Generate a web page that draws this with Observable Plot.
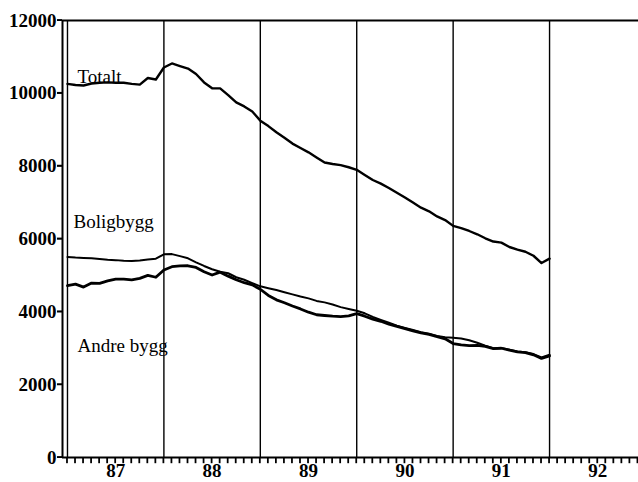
<!DOCTYPE html>
<html>
<head>
<meta charset="utf-8">
<script src="https://cdn.jsdelivr.net/npm/d3@7"></script>
<script src="https://cdn.jsdelivr.net/npm/@observablehq/plot@0.6"></script>
<style>
  html, body { margin: 0; padding: 0; background: #fff; }
  #chart svg { display: block; }
</style>
</head>
<body>
<div id="chart"></div>
<script>
// Monthly values, Jan 1987 (index 0) through Jan 1992 (index 60)
const totalt = [
  10260, 10230, 10215, 10270, 10290, 10300, 10290, 10290, 10260, 10240, 10420, 10380,
  10710, 10820, 10750, 10680, 10530, 10300, 10140, 10135, 9950, 9750, 9640, 9500,
  9250, 9100, 8930, 8780, 8620, 8500, 8380, 8240, 8100, 8060, 8030, 7970,
  7900, 7760, 7620, 7520, 7400, 7270, 7140, 7000, 6860, 6760, 6620, 6520,
  6360, 6300, 6220, 6130, 6020, 5930, 5900, 5780, 5710, 5650, 5540, 5340,
  5460
];
const boligbygg = [
  5505, 5490, 5480, 5470, 5450, 5430, 5420, 5400, 5395, 5410, 5440, 5460,
  5580, 5585, 5530, 5470, 5360, 5260, 5170, 5100, 5060, 4950, 4880, 4790,
  4700, 4650, 4600, 4540, 4480, 4420, 4370, 4300, 4260, 4200, 4130, 4080,
  4030, 3960, 3860, 3780, 3700, 3620, 3560, 3500, 3440, 3400, 3340, 3300,
  3290, 3270, 3220, 3150, 3070, 3000, 3010, 2960, 2910, 2890, 2840, 2750,
  2820
];
const andreBygg = [
  4717, 4760, 4680, 4790, 4780, 4850, 4900, 4900, 4880, 4920, 5000, 4950,
  5150, 5240, 5260, 5265, 5220, 5100, 5010, 5090, 4980, 4880, 4800, 4740,
  4620, 4450, 4330, 4250, 4160, 4080, 3990, 3920, 3900, 3880, 3870, 3890,
  3950, 3880, 3800, 3740, 3660, 3600, 3540, 3480, 3420, 3380, 3320, 3260,
  3130, 3090, 3070, 3080, 3050, 2990, 3000, 2950, 2900, 2880, 2820, 2720,
  2790
];
const yearLabels = ["87", "88", "89", "90", "91", "92"];
const yTicks = [0, 2000, 4000, 6000, 8000, 10000, 12000];
const seriesNames = ["Totalt", "Boligbygg", "Andre bygg"];

const rows = [];
[[seriesNames[0], totalt], [seriesNames[1], boligbygg], [seriesNames[2], andreBygg]].forEach(([name, arr]) => {
  arr.forEach((v, i) => rows.push({series: name, m: i, v}));
});

const xMin = -0.62, xMax = 71.07;
const yMin = -170; // room below zero for the month tick marks
const yearStarts = yearLabels.map((d, i) => i * 12);
const yearMids = yearLabels.map((d, i) => i * 12 + 6);
const monthTicks = d3.range(0, 72).map(m => ({m}));

const labels = [
  {text: "Totalt", m: 1.25, v: 10460, weight: "normal"},
  {text: "Boligbygg", m: 0.75, v: 6480, weight: "bold"},
  {text: "Andre bygg", m: 1.25, v: 3060, weight: "bold"}
];

const serif = "'Liberation Serif', 'Times New Roman', serif";

const chart = Plot.plot({
  width: 638,
  height: 482,
  marginLeft: 62,
  marginRight: 0,
  marginTop: 20,
  marginBottom: 18.8,
  style: {fontFamily: serif, fontSize: "19px", color: "#000", background: "#fff"},
  x: {domain: [xMin, xMax], axis: null},
  y: {domain: [yMin, 12000], axis: null},
  marks: [
    // month ticks below the x axis, as thin filled bars
    Plot.rect(monthTicks, {x1: d => d.m - 0.11, x2: d => d.m + 0.11, y1: yMin, y2: 0, fill: "#000"}),
    // frame lines
    Plot.ruleY([0, 12000], {stroke: "#000", strokeWidth: 2}),
    Plot.ruleX([xMin], {y1: 0, y2: 12000, stroke: "#000", strokeWidth: 2}),
    // year separators
    Plot.ruleX(yearStarts, {y1: 0, y2: 12000, stroke: "#000", strokeWidth: 1.4}),
    // y ticks
    Plot.rect(yTicks, {x1: xMin - 0.62, x2: xMin, y1: d => d - 25, y2: d => d + 25, fill: "#000"}),
    // axis labels
    Plot.axisY({ticks: yTicks, tickSize: 5, tickPadding: 1, tickFormat: d => String(d),
      label: null, fontWeight: "bold", fontSize: 19}),
    Plot.axisX({ticks: yearMids, tickSize: 0, tickPadding: 0.2, label: null,
      tickFormat: d => yearLabels[Math.round((d - 6) / 12)], fontWeight: "bold", fontSize: 19}),
    // series lines
    Plot.line(rows.filter(d => d.series === "Totalt"), {x: "m", y: "v", stroke: "#000", strokeWidth: 2.4}),
    Plot.line(rows.filter(d => d.series === "Boligbygg"), {x: "m", y: "v", stroke: "#000", strokeWidth: 2}),
    Plot.line(rows.filter(d => d.series === "Andre bygg"), {x: "m", y: "v", stroke: "#000", strokeWidth: 2.8}),
    // series labels
    Plot.text(labels, {x: "m", y: "v", text: "text", textAnchor: "start", fontSize: 19,
      fontWeight: d => d.weight, fill: "#000"})
  ]
});
document.getElementById("chart").appendChild(chart);
</script>
</body>
</html>
